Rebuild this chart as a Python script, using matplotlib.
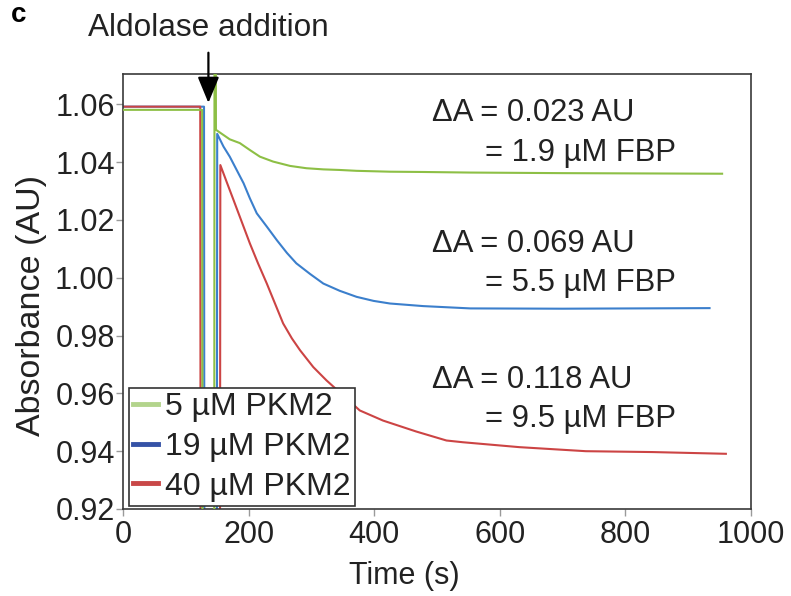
import matplotlib
matplotlib.use("Agg")
import matplotlib.pyplot as plt
from matplotlib.lines import Line2D

plt.rcParams['font.family'] = ['Liberation Sans', 'DejaVu Sans']

# Absorbance traces (0.80 / 1.20 = off-scale during aldolase addition)
t_5 = [0, 126, 127, 145, 146, 147, 148, 160, 170, 186, 202, 218, 239, 266, 292,
       319, 345, 372, 425, 478, 553, 700, 954]
a_5 = [1.0581, 1.0581, 0.80, 0.80, 1.20, 1.20, 1.0512, 1.0494, 1.0479, 1.0466,
       1.0442, 1.0419, 1.0402, 1.0387, 1.0379, 1.0375, 1.0373, 1.0370, 1.0367,
       1.0366, 1.0364, 1.0362, 1.0360]

t_19 = [0, 129, 130, 149, 150, 160, 170, 181, 192, 202, 213, 229, 245, 261, 276,
        298, 319, 345, 372, 399, 425, 478, 553, 700, 934]
a_19 = [1.0592, 1.0592, 0.80, 0.80, 1.0498, 1.0454, 1.0419, 1.0373, 1.0327, 1.0275,
        1.0223, 1.0177, 1.0130, 1.0086, 1.0050, 1.0013, 0.9980, 0.9955, 0.9934,
        0.9920, 0.9911, 0.9902, 0.9894, 0.9893, 0.9895]

t_40 = [0, 123, 124, 154, 155, 165, 176, 189, 202, 215, 229, 242, 255, 269, 282,
        303, 324, 377, 414, 467, 515, 541, 631, 737, 843, 960]
a_40 = [1.0592, 1.0592, 0.80, 0.80, 1.0390, 1.0332, 1.0269, 1.0194, 1.0119, 1.0050,
        0.9980, 0.9911, 0.9842, 0.9790, 0.9749, 0.9691, 0.9645, 0.9541, 0.9506,
        0.9468, 0.9437, 0.9431, 0.9414, 0.9400, 0.9397, 0.9391]

labels = ["5 µM PKM2", "19 µM PKM2", "40 µM PKM2"]
line_colors = ["#8dbf45", "#3b7fcc", "#cc4444"]
legend_colors = ["#b3d48c", "#3552a6", "#c94848"]

notes = [("ΔA = 0.023 AU", "= 1.9 µM FBP", 1.0569, 1.0430),
         ("ΔA = 0.069 AU", "= 5.5 µM FBP", 1.0117, 0.9983),
         ("ΔA = 0.118 AU", "= 9.5 µM FBP", 0.9645, 0.9510)]

fig = plt.figure(figsize=(7.91, 5.96), dpi=100)
ax = fig.add_axes([123 / 791, 1 - 509 / 596, 628 / 791, (509 - 74) / 596])

ax.plot(t_5, a_5, color=line_colors[0], lw=1.5, zorder=3)
ax.plot(t_19, a_19, color=line_colors[1], lw=1.5, zorder=2)
ax.plot(t_40, a_40, color=line_colors[2], lw=1.5, zorder=2)

ax.set_xlim(0, 1000)
ax.set_ylim(0.92, 1.0705)
ax.set_xticks([0, 200, 400, 600, 800, 1000])
ax.set_yticks([0.92, 0.94, 0.96, 0.98, 1.00, 1.02, 1.04, 1.06])
ax.set_yticklabels(["0.92", "0.94", "0.96", "0.98", "1.00", "1.02", "1.04", "1.06"])

for sp in ax.spines.values():
    sp.set_color("#3a3a3a")
    sp.set_linewidth(1.2)
ax.tick_params(axis="both", colors="#9a9a9a", length=5, width=1,
               labelsize=22, labelcolor="#222222")
ax.tick_params(axis="x", pad=3)
ax.tick_params(axis="y", pad=1)

ax.set_xlabel("Time (s)", fontsize=22, color="#222222")
ax.set_ylabel("Absorbance (AU)", fontsize=24.5, color="#222222")
ax.xaxis.set_label_coords(0.4475, -0.12)
ax.yaxis.set_label_coords(-0.121, 0.468)

for l1, l2, y1, y2 in notes:
    ax.text(492, y1, l1, fontsize=22.3, color="#222222", va="center", ha="left")
    ax.text(577, y2, l2, fontsize=22.3, color="#222222", va="center", ha="left")

# aldolase arrow
ax.annotate("Aldolase addition", xy=(136, 1.0605), xycoords="data",
            xytext=(136, 1.0705 + 46 / 2890), textcoords="data",
            ha="center", va="center", fontsize=22.7, color="#222222",
            annotation_clip=False,
            arrowprops=dict(arrowstyle="-|>,head_width=0.33,head_length=0.8",
                            mutation_scale=20, color="black", lw=1.6,
                            shrinkA=5, shrinkB=0))

handles = [Line2D([], [], color=c, lw=3.5) for c in legend_colors]
leg = ax.legend(handles, labels, loc="lower left", bbox_to_anchor=(0.009, 0.006),
                borderaxespad=0, fontsize=23, handlelength=0.78, handletextpad=0.2,
                labelspacing=0.3, borderpad=0.15, fancybox=False, framealpha=1,
                edgecolor="#333333")
leg.get_frame().set_linewidth(1.2)
for txt in leg.get_texts():
    txt.set_color("#222222")

# panel letter
fig.text(0.014, 0.997, "c", fontsize=20, fontweight="bold", va="top", ha="left")

fig.savefig("out.png", dpi=100)
